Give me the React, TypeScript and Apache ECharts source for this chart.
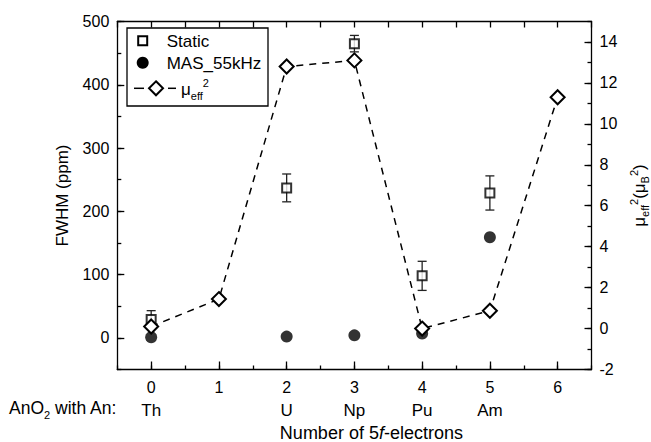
import React, { useEffect, useRef } from 'react';
import * as echarts from 'echarts';

// ---- data ----
const electronCounts = [0, 1, 2, 3, 4, 5, 6];
const elementNames = ['Th', '', 'U', 'Np', 'Pu', 'Am', ''];
const staticX = [0, 2, 3, 4, 5];
const staticFWHM = [29, 237, 465, 98, 229];
const staticErr = [14, 22, 13, 23, 27];
const masX = [0, 2, 3, 4, 5];
const masFWHM = [1, 2, 4, 7, 159];
const muX = [0, 1, 2, 3, 4, 5, 6];
const muEff2 = [0.1, 1.44, 12.8, 13.1, 0, 0.87, 11.3];
const leftTickValues = [0, 100, 200, 300, 400, 500];
const rightTickValues = [-2, 0, 2, 4, 6, 8, 10, 12, 14];

const FONT = '"Liberation Sans", Arial, sans-serif';
const BLACK = '#000';
const AXIS_LINE = { color: BLACK, width: 1.3 };

export default function App() {
  const ref = useRef<HTMLDivElement>(null);

  useEffect(() => {
    if (!ref.current) return;
    const chart = echarts.init(ref.current, null, { renderer: 'svg' });

    const xFormatter = (v: number) => {
      if (Math.abs(v - Math.round(v)) > 1e-6) return '';
      const i = electronCounts.indexOf(Math.round(v));
      if (i < 0) return '';
      const name = elementNames[i] || ' ';
      return `{n|${electronCounts[i]}}\n{e|${name}}`;
    };

    const option: any = {
      animation: false,
      backgroundColor: '#fff',
      textStyle: { fontFamily: FONT, color: BLACK },
      grid: { left: 117.3, right: 59.5, top: 21.5, bottom: 72.5, containLabel: false, outerBoundsMode: 'none' },
      xAxis: [
        {
          type: 'value', position: 'bottom', min: -0.5, max: 6.5, interval: 0.5,
          axisLine: { show: true, onZero: false, lineStyle: AXIS_LINE },
          axisTick: { show: true, inside: true, length: 8, customValues: electronCounts, lineStyle: AXIS_LINE },
          axisLabel: {
            customValues: electronCounts, formatter: xFormatter, margin: 8, color: BLACK,
            rich: {
              n: { fontFamily: FONT, fontSize: 16, lineHeight: 20, color: BLACK },
              e: { fontFamily: FONT, fontSize: 17, lineHeight: 26, color: BLACK },
            },
          },
          splitLine: { show: false },
          name: 'Number of 5{it|f}-electrons', nameLocation: 'middle', nameGap: 54,
          nameTextStyle: {
            fontFamily: FONT, fontSize: 18, color: BLACK, lineHeight: 18, padding: [0, 0, 0, 34],
            rich: { it: { fontFamily: FONT, fontSize: 18, lineHeight: 18, fontStyle: 'italic', color: BLACK } },
          },
        },
        {
          type: 'value', position: 'bottom', min: -0.5, max: 6.5, interval: 0.5,
          axisLine: { show: false, onZero: false },
          axisTick: { show: true, inside: true, length: 4, lineStyle: AXIS_LINE },
          axisLabel: { show: false }, splitLine: { show: false },
        },
        {
          type: 'value', position: 'top', min: -0.5, max: 6.5, interval: 0.5,
          axisLine: { show: true, onZero: false, lineStyle: AXIS_LINE },
          axisTick: { show: true, inside: true, length: 6, lineStyle: AXIS_LINE },
          axisLabel: { show: false }, splitLine: { show: false },
        },
      ],
      yAxis: [
        {
          type: 'value', position: 'left', min: -50, max: 500, interval: 50,
          axisLine: { show: true, onZero: false, lineStyle: AXIS_LINE },
          axisTick: { show: true, inside: true, length: 7, customValues: leftTickValues, lineStyle: AXIS_LINE },
          axisLabel: {
            customValues: leftTickValues, margin: 8, fontFamily: FONT, fontSize: 16, color: BLACK,
            formatter: (v: number) => (v % 100 === 0 && v >= 0 ? String(v) : ''),
          },
          splitLine: { show: false },
          name: 'FWHM (ppm)', nameLocation: 'middle', nameGap: 46, nameRotate: 90,
          nameTextStyle: { fontFamily: FONT, fontSize: 17, color: BLACK },
        },
        {
          type: 'value', position: 'left', min: -50, max: 500, interval: 50,
          axisLine: { show: false, onZero: false },
          axisTick: { show: true, inside: true, length: 4, lineStyle: AXIS_LINE },
          axisLabel: { show: false }, splitLine: { show: false },
        },
        {
          type: 'value', position: 'right', min: -2, max: 15, interval: 2,
          axisLine: { show: true, onZero: false, lineStyle: AXIS_LINE },
          axisTick: { show: true, inside: true, length: 7, customValues: rightTickValues, lineStyle: AXIS_LINE },
          axisLabel: {
            customValues: rightTickValues, margin: 8, fontFamily: FONT, fontSize: 16, color: BLACK,
            formatter: (v: number) => (rightTickValues.indexOf(v) >= 0 ? String(v) : ''),
          },
          splitLine: { show: false },
          name: 'μ{sub|eff}{sup|2}(μ{sub|B}{sup|2})', nameLocation: 'middle', nameGap: 18, nameRotate: 90,
          nameTextStyle: {
            fontFamily: FONT, fontSize: 17, color: BLACK, lineHeight: 22,
            rich: {
              sub: { fontFamily: FONT, fontSize: 11, lineHeight: 10, verticalAlign: 'bottom', color: BLACK },
              sup: { fontFamily: FONT, fontSize: 11, lineHeight: 10, verticalAlign: 'top', color: BLACK },
            },
          },
        },
        {
          type: 'value', position: 'right', min: -2, max: 15, interval: 1,
          axisLine: { show: false, onZero: false },
          axisTick: { show: true, inside: true, length: 4, lineStyle: AXIS_LINE },
          axisLabel: { show: false }, splitLine: { show: false },
        },
      ],
      series: [
        {
          type: 'custom', name: 'Static error', xAxisIndex: 0, yAxisIndex: 0, z: 2, silent: true,
          encode: { x: 0, y: 1 },
          data: staticX.map((x, i) => [x, staticFWHM[i], staticErr[i]]),
          renderItem: (params: any, api: any) => {
            const x = api.value(0), y = api.value(1), e = api.value(2);
            const top = api.coord([x, y + e]);
            const bot = api.coord([x, y - e]);
            const hw = 4.5;
            const st = { stroke: '#222', lineWidth: 1.3 };
            return {
              type: 'group',
              children: [
                { type: 'line', shape: { x1: top[0], y1: top[1], x2: bot[0], y2: bot[1] }, style: st },
                { type: 'line', shape: { x1: top[0] - hw, y1: top[1], x2: top[0] + hw, y2: top[1] }, style: st },
                { type: 'line', shape: { x1: bot[0] - hw, y1: bot[1], x2: bot[0] + hw, y2: bot[1] }, style: st },
              ],
            };
          },
        },
        {
          type: 'scatter', name: 'Static', xAxisIndex: 0, yAxisIndex: 0, z: 4, silent: true,
          data: staticX.map((x, i) => [x, staticFWHM[i]]),
          symbol: 'rect', symbolSize: 9,
          itemStyle: { color: '#fff', borderColor: BLACK, borderWidth: 2 },
        },
        {
          type: 'scatter', name: 'MAS_55kHz', xAxisIndex: 0, yAxisIndex: 0, z: 3, silent: true,
          data: masX.map((x, i) => [x, masFWHM[i]]),
          symbol: 'circle', symbolSize: 12,
          itemStyle: { color: BLACK },
        },
        {
          type: 'line', name: 'μeff2', xAxisIndex: 0, yAxisIndex: 2, z: 5, silent: true,
          data: muX.map((x, i) => [x, muEff2[i]]),
          symbol: 'diamond', symbolSize: 14, showAllSymbol: true,
          itemStyle: { color: '#fff', borderColor: BLACK, borderWidth: 2 },
          lineStyle: { color: BLACK, width: 1.5, type: [7, 6] },
        },
      ],
      graphic: [
        {
          type: 'rect', z: 10, shape: { x: 127, y: 28, width: 141, height: 78 },
          style: { fill: '#fff', stroke: BLACK, lineWidth: 1.3 },
        },
        {
          type: 'rect', z: 11, shape: { x: 138.2, y: 36.2, width: 9, height: 9 },
          style: { fill: '#fff', stroke: BLACK, lineWidth: 2 },
        },
        {
          type: 'text', z: 11, x: 166.7, y: 41,
          style: { text: 'Static', fontFamily: FONT, fontSize: 17, fill: BLACK, verticalAlign: 'middle' },
        },
        {
          type: 'circle', z: 11, shape: { cx: 142.7, cy: 62.7, r: 6 }, style: { fill: BLACK },
        },
        {
          type: 'text', z: 11, x: 166.7, y: 63,
          style: { text: 'MAS_55kHz', fontFamily: FONT, fontSize: 17, fill: BLACK, verticalAlign: 'middle' },
        },
        {
          type: 'line', z: 11, shape: { x1: 134, y1: 88.3, x2: 144, y2: 88.3 },
          style: { stroke: BLACK, lineWidth: 1.5 },
        },
        {
          type: 'line', z: 11, shape: { x1: 168, y1: 88.3, x2: 176, y2: 88.3 },
          style: { stroke: BLACK, lineWidth: 1.5 },
        },
        {
          type: 'polygon', z: 11,
          shape: { points: [[156, 81.3], [163, 88.3], [156, 95.3], [149, 88.3]] },
          style: { fill: '#fff', stroke: BLACK, lineWidth: 2 },
        },
        {
          type: 'text', z: 11, x: 181, y: 89,
          style: {
            text: '{m|μ}{sub|eff}{sup|2}', verticalAlign: 'middle', fontFamily: FONT, fill: BLACK,
            rich: {
              m: { fontFamily: FONT, fontSize: 17, lineHeight: 24, fill: BLACK, color: BLACK },
              sub: { fontFamily: FONT, fontSize: 11, lineHeight: 11, verticalAlign: 'bottom', fill: BLACK, color: BLACK },
              sup: { fontFamily: FONT, fontSize: 11, lineHeight: 11, verticalAlign: 'top', fill: BLACK, color: BLACK },
            },
          },
        },
        {
          type: 'text', z: 11, x: 9, y: 408,
          style: {
            text: '{m|AnO}{s|2}{m| with An:}', verticalAlign: 'middle', fontFamily: FONT, fill: BLACK,
            rich: {
              m: { fontFamily: FONT, fontSize: 17.5, lineHeight: 24, fill: BLACK, color: BLACK },
              s: { fontFamily: FONT, fontSize: 11, lineHeight: 10, verticalAlign: 'bottom', fill: BLACK, color: BLACK },
            },
          },
        },
      ],
    };

    chart.setOption(option);
    return () => chart.dispose();
  }, []);

  return (
    <div
      ref={ref}
      style={{ position: 'absolute', left: 0, top: 0, width: 651, height: 442, background: '#fff' }}
    />
  );
}
